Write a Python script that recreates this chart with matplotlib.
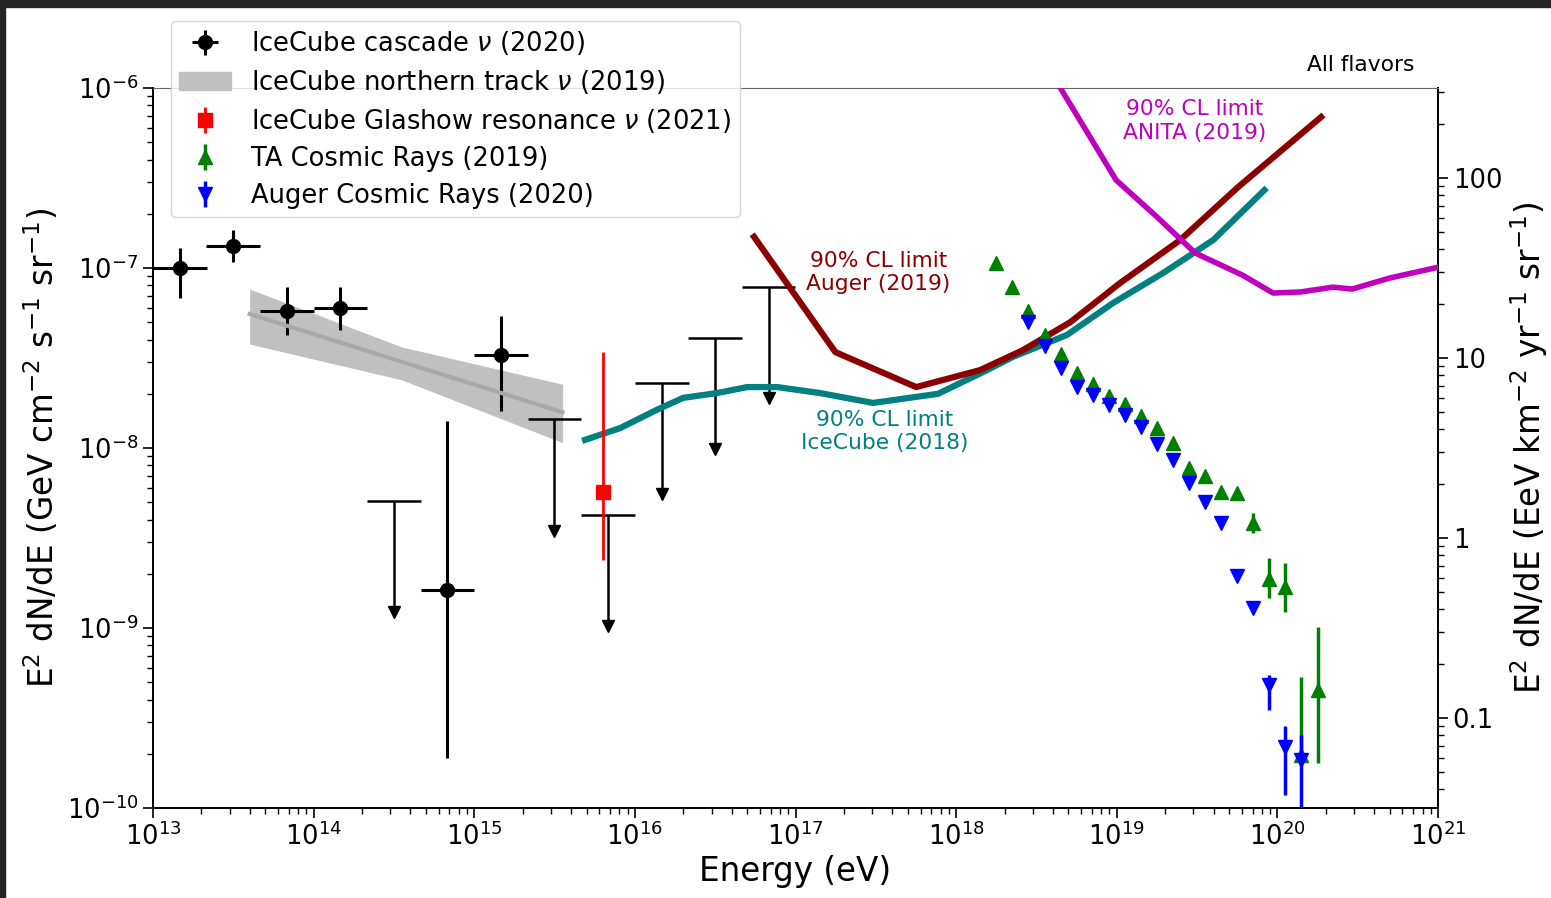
"""
E^2 dN/dE summary: IceCube neutrino fluxes / limits next to the UHE cosmic-ray
spectra of TA and Auger. Left axis in GeV cm^-2 s^-1 sr^-1, right axis in
EeV km^-2 yr^-1 sr^-1.
"""

import numpy as np
import matplotlib
matplotlib.use("Agg")
import matplotlib.pyplot as plt
from matplotlib import ticker
from matplotlib.patches import Patch, Rectangle


# GeV cm^-2 s^-1 sr^-1 -> EeV km^-2 yr^-1 sr^-1
TO_EEV = 1e-9 * 1e10 * 3.156e7

BIN_HALF = 10 ** (1 / 6)   # cascade bins are 1/3 decade wide
UL_DROP = 0.24             # length of the upper-limit arrows

# ---- IceCube cascades (2020): measured bins ----
casc_e = np.array([1.47e13, 3.16e13, 6.81e13, 1.47e14, 6.81e14, 1.47e15])
casc_f = np.array([1.0e-7, 1.32e-7, 5.8e-8, 6.0e-8, 1.63e-9, 3.3e-8])
casc_lo = np.array([6.8e-8, 1.08e-7, 4.25e-8, 4.5e-8, 1.9e-10, 1.6e-8])
casc_hi = np.array([1.29e-7, 1.63e-7, 7.85e-8, 7.85e-8, 1.41e-8, 5.4e-8])

# ---- IceCube cascades (2020): upper limits ----
ul_e = np.array([3.16e14, 3.16e15, 6.81e15, 1.47e16, 3.16e16, 6.81e16])
ul_f = np.array([5.1e-9, 1.45e-8, 4.25e-9, 2.3e-8, 4.1e-8, 7.85e-8])

# ---- IceCube northern tracks (2019) band ----
nt_e = np.array([4.0e13, 3.55e14, 3.55e15])
nt_f = np.array([5.55e-8, 3.01e-8, 1.58e-8])
nt_lo = np.array([3.78e-8, 2.39e-8, 1.07e-8])
nt_hi = np.array([7.64e-8, 3.64e-8, 2.26e-8])

# ---- IceCube Glashow resonance event (2021) ----
gr_e = np.array([6.3e15])
gr_f = np.array([5.7e-9])
gr_lo = np.array([2.4e-9])
gr_hi = np.array([3.4e-8])

# ---- 90% CL limits ----
icl_e = np.array([4.9e15, 8.1e15, 1.37e16, 2.0e16, 3.25e16, 5.0e16, 7.7e16,
                  1.42e17, 3.04e17, 7.7e17, 1.43e18, 2.26e18, 4.9e18, 9.5e18,
                  1.95e19, 3.98e19, 8.3e19])
icl_f = np.array([1.11e-8, 1.29e-8, 1.63e-8, 1.90e-8, 2.02e-8, 2.18e-8, 2.18e-8,
                  2.02e-8, 1.78e-8, 2.0e-8, 2.61e-8, 3.21e-8, 4.25e-8, 6.4e-8,
                  9.4e-8, 1.43e-7, 2.71e-7])

aug_lim_e = np.array([5.52e16, 1.77e17, 5.64e17, 1.41e18, 2.61e18, 5.13e18,
                      1.05e19, 2.48e19, 5.7e19, 1.87e20])
aug_lim_f = np.array([1.49e-7, 3.41e-8, 2.18e-8, 2.71e-8, 3.5e-8, 5.0e-8,
                      8.26e-8, 1.43e-7, 2.82e-7, 6.9e-7])

anita_e = np.array([3.16e18, 9.9e18, 1.78e19, 3.08e19, 6.1e19, 9.4e19,
                    1.39e20, 2.22e20, 2.92e20, 5.0e20, 1.0e21])
anita_f = np.array([1.66e-6, 3.08e-7, 1.92e-7, 1.21e-7, 9.1e-8, 7.26e-8,
                    7.36e-8, 7.83e-8, 7.64e-8, 8.8e-8, 1.01e-7])

# ---- TA cosmic rays (2019) ----
ta_e = np.array([1.78e18, 2.24e18, 2.82e18, 3.55e18, 4.47e18, 5.62e18, 7.08e18,
                 8.91e18, 1.12e19, 1.41e19, 1.78e19, 2.24e19, 2.82e19, 3.55e19,
                 4.47e19, 5.62e19, 7.08e19, 8.91e19, 1.12e20, 1.41e20, 1.78e20])
ta_f = np.array([1.067e-7, 7.83e-8, 5.77e-8, 4.25e-8, 3.33e-8, 2.61e-8, 2.27e-8,
                 1.95e-8, 1.75e-8, 1.51e-8, 1.29e-8, 1.07e-8, 7.74e-9, 6.98e-9,
                 5.70e-9, 5.62e-9, 3.83e-9, 1.87e-9, 1.69e-9, 1.97e-10, 4.53e-10])
ta_lo = np.array([1.067e-7, 7.83e-8, 5.77e-8, 4.25e-8, 3.33e-8, 2.61e-8, 2.27e-8,
                  1.95e-8, 1.75e-8, 1.51e-8, 1.29e-8, 1.07e-8, 7.74e-9, 6.98e-9,
                  5.70e-9, 5.62e-9, 3.37e-9, 1.47e-9, 1.23e-9, 1.78e-10, 1.78e-10])
ta_hi = np.array([1.067e-7, 7.83e-8, 5.77e-8, 4.25e-8, 3.33e-8, 2.61e-8, 2.27e-8,
                  1.95e-8, 1.75e-8, 1.51e-8, 1.29e-8, 1.07e-8, 7.74e-9, 6.98e-9,
                  5.70e-9, 5.62e-9, 4.36e-9, 2.45e-9, 2.30e-9, 5.35e-10, 1.01e-9])

# ---- Auger cosmic rays (2020) ----
aug_e = np.array([2.82e18, 3.55e18, 4.47e18, 5.62e18, 7.08e18, 8.91e18, 1.12e19,
                  1.41e19, 1.78e19, 2.24e19, 2.82e19, 3.55e19, 4.47e19, 5.62e19,
                  7.08e19, 8.91e19, 1.12e20, 1.41e20])
aug_f = np.array([5.01e-8, 3.69e-8, 2.78e-8, 2.18e-8, 1.97e-8, 1.73e-8, 1.52e-8,
                  1.31e-8, 1.05e-8, 8.57e-9, 6.40e-9, 5.01e-9, 3.83e-9, 1.95e-9,
                  1.29e-9, 4.82e-10, 2.18e-10, 1.85e-10])
aug_lo = np.array([5.01e-8, 3.69e-8, 2.78e-8, 2.18e-8, 1.97e-8, 1.73e-8, 1.52e-8,
                   1.31e-8, 1.05e-8, 8.57e-9, 6.40e-9, 5.01e-9, 3.83e-9, 1.95e-9,
                   1.25e-9, 3.5e-10, 1.18e-10, 5.0e-11])
aug_hi = np.array([5.01e-8, 3.69e-8, 2.78e-8, 2.18e-8, 1.97e-8, 1.73e-8, 1.52e-8,
                   1.31e-8, 1.05e-8, 8.57e-9, 6.40e-9, 5.01e-9, 3.83e-9, 1.95e-9,
                   1.38e-9, 5.48e-10, 2.86e-10, 2.55e-10])


def main():
    fig = plt.figure(figsize=(15.51, 8.98), dpi=100)
    ax = fig.add_axes([0.0986, 0.1002, 0.8286, 0.8018])

    # northern-track band (under the points), best-fit line on top
    ax.fill_between(nt_e, nt_lo, nt_hi, color="silver", lw=0, zorder=1)
    ax.plot(nt_e, nt_f, color="darkgray", lw=3, zorder=3)

    casc = ax.errorbar(casc_e, casc_f,
                       xerr=[casc_e - casc_e / BIN_HALF, casc_e * BIN_HALF - casc_e],
                       yerr=[casc_f - casc_lo, casc_hi - casc_f],
                       fmt="o", color="k", ms=10, elinewidth=2.2, capsize=0, zorder=2)
    ax.errorbar(ul_e, ul_f,
                xerr=[ul_e - ul_e / BIN_HALF, ul_e * BIN_HALF - ul_e],
                yerr=[ul_f * (1 - UL_DROP), np.zeros_like(ul_f)],
                fmt="none", ecolor="k", elinewidth=1.8, capsize=0, zorder=2)
    ax.plot(ul_e, ul_f * UL_DROP, "v", color="k", ms=8, zorder=2)

    ax.plot(icl_e, icl_f, color="teal", lw=4.5, zorder=3)
    ax.plot(aug_lim_e, aug_lim_f, color="darkred", lw=4.5, zorder=3)
    ax.plot(anita_e, anita_f, color="m", lw=4, zorder=3)

    gr = ax.errorbar(gr_e, gr_f, yerr=[gr_f - gr_lo, gr_hi - gr_f],
                     fmt="s", color="red", ms=10, elinewidth=2, capsize=0, zorder=4)
    ta = ax.errorbar(ta_e, ta_f, yerr=[ta_f - ta_lo, ta_hi - ta_f],
                     fmt="^", color="green", ms=10, elinewidth=2.5, capsize=0, zorder=4)
    aug = ax.errorbar(aug_e, aug_f, yerr=[aug_f - aug_lo, aug_hi - aug_f],
                      fmt="v", color="blue", ms=10, elinewidth=2.5, capsize=0, zorder=5)

    ax.text(3.27e17, 9.4e-8, "90% CL limit\nAuger (2019)", color="darkred",
            fontsize=15.7, ha="center", va="center")
    ax.text(3.6e17, 1.23e-8, "90% CL limit\nIceCube (2018)", color="teal",
            fontsize=15.7, ha="center", va="center")
    ax.text(3.03e19, 6.56e-7, "90% CL limit\nANITA (2019)", color="m",
            fontsize=15.7, ha="center", va="center")
    ax.text(3.3e20, 1.34e-6, "All flavors", fontsize=15.7, ha="center", va="center")

    ax.set_xscale("log")
    ax.set_yscale("log")
    ax.set_xlim(1e13, 1e21)
    ax.set_ylim(1e-10, 1e-6)
    ax.xaxis.set_minor_locator(ticker.LogLocator(base=10, subs=np.arange(2, 10), numticks=100))
    ax.yaxis.set_minor_locator(ticker.LogLocator(base=10, subs=np.arange(2, 10), numticks=100))
    ax.tick_params(which="major", labelsize=18.5, length=7, width=1.2)
    ax.tick_params(which="minor", length=4, width=1)
    for side in ("left", "bottom", "right"):
        ax.spines[side].set_linewidth(1.4)
    ax.spines["top"].set_color("0.4")
    ax.set_xlabel("Energy (eV)", fontsize=23.5, labelpad=3)
    ax.set_ylabel(r"E$^2$ dN/dE (GeV cm$^{-2}$ s$^{-1}$ sr$^{-1}$)", fontsize=23.5)

    sec = ax.secondary_yaxis("right", functions=(lambda f: f * TO_EEV, lambda f: f / TO_EEV))
    sec.yaxis.set_major_locator(ticker.FixedLocator([0.1, 1, 10, 100]))
    sec.yaxis.set_major_formatter(ticker.FuncFormatter(lambda v, _: f"{v:g}"))
    sec.yaxis.set_minor_locator(ticker.LogLocator(base=10, subs=np.arange(2, 10), numticks=100))
    sec.yaxis.set_minor_formatter(ticker.NullFormatter())
    sec.tick_params(which="major", labelsize=18.5, length=7, width=1.2)
    sec.tick_params(which="minor", length=4, width=1)
    sec.spines["right"].set_linewidth(1.4)
    sec.set_ylabel(r"E$^2$ dN/dE (EeV km$^{-2}$ yr$^{-1}$ sr$^{-1}$)", fontsize=23.5)

    handles = [casc, Patch(color="silver"), gr, ta, aug]
    labels = [r"IceCube cascade $\nu$ (2020)",
              r"IceCube northern track $\nu$ (2019)",
              r"IceCube Glashow resonance $\nu$ (2021)",
              "TA Cosmic Rays (2019)",
              "Auger Cosmic Rays (2020)"]
    ax.legend(handles, labels, loc="upper left", fontsize=18.5,
              bbox_to_anchor=(171 / 1551, 1 - 21 / 898), bbox_transform=fig.transFigure,
              borderaxespad=0, borderpad=0.33, handlelength=2.0, handletextpad=0.8,
              labelspacing=0.42)

    # dark frame strips of the screenshot
    fig.add_artist(Rectangle((0, 1 - 7 / 898), 1, 7 / 898, transform=fig.transFigure,
                             color="#242424", zorder=10))
    fig.add_artist(Rectangle((0, 0), 5 / 1551, 1, transform=fig.transFigure,
                             color="#242424", zorder=10))

    fig.savefig("out.png", dpi=100)
    plt.close(fig)


if __name__ == "__main__":
    main()
